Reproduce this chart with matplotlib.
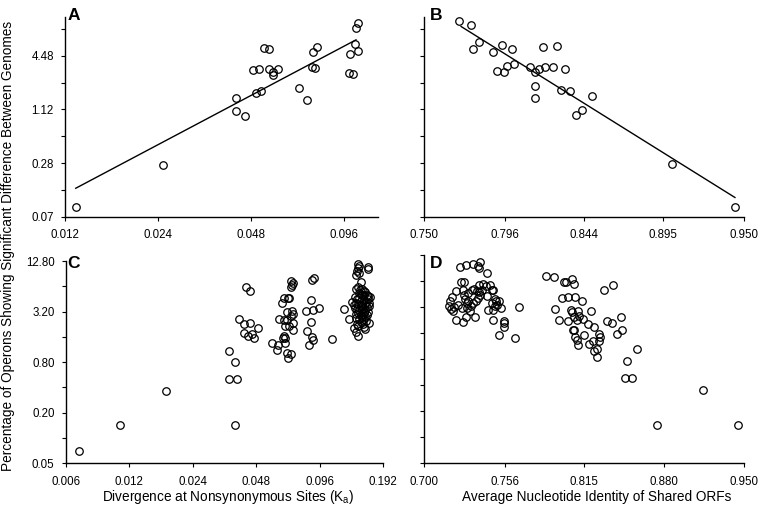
import matplotlib
matplotlib.use('Agg')
import matplotlib.pyplot as plt
from matplotlib.ticker import FixedLocator, FixedFormatter, NullLocator, NullFormatter

plt.rcParams['font.family'] = ['Liberation Sans', 'DejaVu Sans']
plt.rcParams['mathtext.fontset'] = 'custom'
plt.rcParams['mathtext.rm'] = 'Liberation Sans'
plt.rcParams['mathtext.it'] = 'Liberation Sans'

# ---------------- Panel A: Ka vs % operons ----------------
a_x = [0.0130, 0.0250, 0.0429, 0.0429, 0.0460, 0.0488, 0.0509, 0.0498, 0.0518,
       0.0529, 0.0550, 0.0549, 0.0567, 0.0567, 0.0587, 0.0689, 0.0727, 0.0755,
       0.0775, 0.0764, 0.0787, 0.0993, 0.1026, 0.1004, 0.1043, 0.1066, 0.1050, 0.1067]
a_y = [0.089, 0.267, 1.52, 1.08, 0.95, 3.09, 3.19, 1.71, 1.78,
       5.50, 5.30, 3.19, 2.98, 2.76, 3.19, 1.93, 1.43, 3.38,
       3.25, 5.00, 5.65, 2.88, 2.80, 4.68, 6.07, 5.09, 9.30, 10.4]
a_fit_x = [0.0130, 0.105]
a_fit_y = [0.146, 6.76]

# ---------------- Panel B: identity vs % operons ----------------
b_x = [0.7694, 0.7764, 0.7774, 0.7812, 0.7893, 0.7914, 0.7945, 0.7954, 0.7972,
       0.8002, 0.8013, 0.8113, 0.8141, 0.8164, 0.8141, 0.8141, 0.8192, 0.8201,
       0.8251, 0.8273, 0.8301, 0.8322, 0.8353, 0.8392, 0.8432, 0.8493, 0.9011, 0.9440]
b_y = [11.0, 9.9, 5.4, 6.35, 4.97, 3.03, 5.97, 2.93, 3.46,
       5.37, 3.60, 3.37, 2.96, 3.17, 2.03, 1.50, 5.65, 3.33,
       3.33, 5.81, 1.85, 3.19, 1.79, 0.98, 1.11, 1.59, 0.274, 0.090]
b_fit_x = [0.7707, 0.944]
b_fit_y = [9.55, 0.115]

# ---------------- Panel C: Ka vs % operons (all pairs) ----------------
c_x = [0.00696, 0.0109, 0.0179,
       0.0358, 0.0381, 0.0358, 0.0390, 0.0381, 0.0399, 0.0419, 0.0419, 0.0430,
       0.0450, 0.0437, 0.0450, 0.0460, 0.0466, 0.0490,
       0.0572, 0.0600, 0.0607, 0.0614, 0.0638, 0.0648, 0.0650, 0.0648, 0.0660,
       0.0670, 0.0660, 0.0660, 0.0669, 0.0676, 0.0676, 0.0687, 0.0672, 0.0687,
       0.0703, 0.0710, 0.0719, 0.0700, 0.0710, 0.0719, 0.0715, 0.0719, 0.0700,
       0.0640, 0.0700,
       0.0828, 0.0834, 0.0852, 0.0871, 0.0871, 0.0881, 0.0897, 0.0890, 0.0881,
       0.0890, 0.0950, 0.110,
       0.125, 0.132, 0.137, 0.140,
       0.145, 0.148, 0.146, 0.144, 0.147, 0.143, 0.162, 0.163,
       0.150, 0.146, 0.143, 0.149, 0.152, 0.155, 0.158, 0.147, 0.152, 0.156,
       0.160, 0.163, 0.166,
       0.141, 0.144, 0.148, 0.151, 0.155, 0.159, 0.162, 0.165,
       0.142, 0.146, 0.150, 0.153, 0.157, 0.160, 0.164,
       0.141, 0.144, 0.148, 0.152, 0.155, 0.158, 0.162,
       0.142, 0.146, 0.150, 0.154, 0.157, 0.161,
       0.143, 0.147, 0.152, 0.156, 0.159,
       0.144, 0.150, 0.154, 0.165,
       0.140, 0.146, 0.155, 0.158,
       0.145, 0.143]
c_y = [0.071, 0.143, 0.36,
       1.10, 0.81, 0.51, 0.51, 0.143, 2.60, 2.25, 1.80, 6.20,
       5.60, 1.64, 2.32, 1.74, 1.55, 2.03,
       1.34, 1.12, 1.27, 2.58, 4.03, 4.60, 2.53, 1.64, 1.55,
       2.53, 2.17, 1.34, 1.03, 0.89, 4.67, 4.67, 3.15, 2.17,
       7.50, 6.70, 7.10, 6.30, 3.26, 2.96, 2.35, 1.91, 1.00,
       1.55, 2.80,
       3.26, 1.87, 1.27, 4.40, 2.43, 7.70, 8.10, 3.30, 1.58,
       1.45, 3.50, 1.49,
       3.40, 2.64, 4.17, 3.86,
       11.7, 11.2, 10.5, 9.8, 9.2, 8.8, 11.0, 10.2,
       7.2, 6.3, 5.9, 5.8, 6.0, 5.7, 5.5, 5.3, 5.1, 5.0,
       5.1, 4.9, 4.8,
       4.8, 4.5, 4.6, 4.3, 4.4, 4.2, 4.5, 4.1,
       4.0, 3.9, 3.8, 3.7, 3.9, 3.6, 3.7,
       3.5, 3.4, 3.3, 3.4, 3.2, 3.3, 3.2,
       3.0, 3.1, 2.9, 3.0, 2.8, 2.9,
       2.7, 2.6, 2.75, 2.6, 2.5,
       2.3, 2.4, 2.3, 2.35,
       2.05, 2.15, 2.1, 2.0,
       1.64, 1.85]

# ---------------- Panel D: identity vs % operons (all pairs) ----------------
d_x = [0.7243, 0.7284, 0.7335, 0.7382, 0.7370, 0.7375, 0.7434,
       0.7250, 0.7271, 0.7262, 0.7215, 0.7186, 0.7174, 0.7167, 0.7178, 0.7192,
       0.7215, 0.7262, 0.7284, 0.7312, 0.7317, 0.7294, 0.7278, 0.7271, 0.7301,
       0.7324, 0.7342, 0.7359, 0.7378, 0.7401, 0.7425, 0.7453, 0.7465, 0.7378,
       0.7394, 0.7382, 0.7370, 0.7354, 0.7331, 0.7347, 0.7294, 0.7255, 0.7232,
       0.7201, 0.7301, 0.7434, 0.7472, 0.7441, 0.7472, 0.7489, 0.7494, 0.7501,
       0.7520, 0.7530, 0.7477, 0.7489, 0.7465,
       0.7553, 0.7553, 0.7553, 0.7520, 0.7636, 0.7665,
       0.7862, 0.7921, 0.7999, 0.8011, 0.8062, 0.8075, 0.7981, 0.8032, 0.8083,
       0.8141, 0.7930, 0.7963, 0.8032, 0.8052, 0.8062, 0.8075, 0.8096, 0.8109,
       0.8117, 0.8144, 0.8065, 0.8075, 0.8083, 0.8096, 0.8104, 0.8154, 0.8187,
       0.8206, 0.8195, 0.8221, 0.8232, 0.8232, 0.8253, 0.8258, 0.8271, 0.8279,
       0.8271, 0.8310, 0.8385, 0.8332, 0.8372, 0.8444, 0.8412, 0.8457, 0.8493,
       0.8479, 0.8538, 0.8579, 0.8739, 0.9137, 0.9448]
d_y = [9.2, 9.9, 10.15, 10.5, 9.45, 8.97, 8.0,
       6.17, 6.17, 5.08, 4.95, 4.17, 3.72, 3.25, 3.03, 2.85,
       2.28, 2.15, 2.45, 2.85, 3.25, 3.56, 3.96, 4.44, 4.65,
       5.08, 5.2, 4.85, 5.8, 5.96, 5.54, 5.8, 5.08, 4.73,
       5.0, 4.44, 4.07, 3.72, 3.56, 2.45, 3.11, 3.11, 3.4,
       3.2, 3.72, 4.25, 5.08, 2.98, 2.93, 3.25, 3.72, 3.4,
       3.78, 3.11, 2.28, 4.0, 3.56,
       2.18, 2.09, 1.88, 1.54, 1.40, 3.2,
       7.24, 7.05, 6.17, 6.25, 6.76, 5.9, 4.03, 4.17, 4.13,
       3.72, 3.0, 2.24, 2.2, 2.98, 2.78, 2.45, 2.24, 2.85,
       2.49, 2.36, 1.75, 1.75, 1.46, 1.34, 1.18, 1.53, 2.04,
       2.9, 1.19, 1.3, 1.88, 1.0, 0.85, 1.06, 1.58, 1.46,
       1.3, 5.08, 5.7, 2.2, 2.12, 2.45, 1.56, 1.72, 0.77,
       0.49, 0.49, 1.05, 0.139, 0.35, 0.139]

# ---------------- ticks ----------------
a_xticks = [0.012, 0.024, 0.048, 0.096]
b_xticks = [0.750, 0.796, 0.844, 0.895, 0.950]
c_xticks = [0.006, 0.012, 0.024, 0.048, 0.096, 0.192]
d_xticks = [0.700, 0.756, 0.815, 0.880, 0.950]
ab_yticks = [0.07, 0.28, 1.12, 4.48]
ab_yminor = [0.14, 0.56, 2.24, 8.96]
cd_yticks = [0.05, 0.20, 0.80, 3.20, 12.80]
cd_yminor = [0.10, 0.40, 1.60, 6.40]

W, H = 760.0, 516.0
fig = plt.figure(figsize=(7.6, 5.16), dpi=100)


def ax_at(l, r, t, b):
    return fig.add_axes([l / W, 1 - b / H, (r - l) / W, (b - t) / H])


def style(ax, xlim, ylim, xt, xfmt, yt, yfmt, ymin, show_y):
    ax.set_xscale('log')
    ax.set_yscale('log')
    ax.set_xlim(*xlim)
    ax.set_ylim(*ylim)
    for s in ['top', 'right']:
        ax.spines[s].set_visible(False)
    for s in ['left', 'bottom']:
        ax.spines[s].set_linewidth(1.0)
        ax.spines[s].set_color('black')
    ax.xaxis.set_major_locator(FixedLocator(xt))
    ax.xaxis.set_major_formatter(FixedFormatter([xfmt.format(v) for v in xt]))
    ax.xaxis.set_minor_locator(NullLocator())
    ax.yaxis.set_major_locator(FixedLocator(yt))
    if show_y:
        ax.yaxis.set_major_formatter(FixedFormatter([yfmt.format(v) for v in yt]))
    else:
        ax.yaxis.set_major_formatter(NullFormatter())
    ax.yaxis.set_minor_locator(FixedLocator(ymin))
    ax.yaxis.set_minor_formatter(NullFormatter())
    ax.tick_params(which='both', direction='out', length=3, width=0.8,
                   labelsize=8.3, colors='black')
    ax.tick_params(axis='x', pad=6)
    ax.tick_params(axis='y', pad=5)
    ax.patch.set_visible(False)


mk = dict(linestyle='none', marker='o', mfc='none', mec='black', ms=5.4,
          mew=0.9, clip_on=False, zorder=3)

axA = ax_at(65, 378, 17, 216.7)
style(axA, (0.012, 0.1237), (0.07, 12.2), a_xticks, '{:.3f}', ab_yticks, '{:.2f}', ab_yminor, True)
axA.plot(a_fit_x, a_fit_y, color='black', lw=1.0)
axA.plot(a_x, a_y, **mk)

axB = ax_at(424.3, 743.5, 17, 216.7)
style(axB, (0.75, 0.95), (0.07, 12.2), b_xticks, '{:.3f}', ab_yticks, '{:.2f}', ab_yminor, False)
axB.plot(b_fit_x, b_fit_y, color='black', lw=1.0)
axB.plot(b_x, b_y, **mk)

axC = ax_at(65.7, 383.3, 261, 463.3)
style(axC, (0.006, 0.192), (0.05, 12.8), c_xticks, '{:.3f}', cd_yticks, '{:.2f}', cd_yminor, True)
axC.plot(c_x, c_y, **mk)

axD = ax_at(424.3, 744, 255, 463.3)
style(axD, (0.70, 0.95), (0.05, 12.8), d_xticks, '{:.3f}', cd_yticks, '{:.2f}', cd_yminor, False)
axD.plot(d_x, d_y, **mk)

# panel letters
for lab, (px, py) in zip('ABCD', [(68, 15), (430, 15), (67, 264), (430, 263)]):
    fig.text(px / W, 1 - py / H, lab, fontsize=12.5, fontweight='bold',
             ha='left', va='center')

fig.text(8 / W, 1 - 246 / H,
         'Percentage of Operons Showing Significant Difference Between Genomes',
         rotation=90, ha='center', va='center', fontsize=9.8)
fig.text(228 / W, 1 - 497 / H, r'Divergence at Nonsynonymous Sites (K$_\mathrm{a}$)',
         ha='center', va='center', fontsize=9.8)
fig.text(597 / W, 1 - 497 / H, 'Average Nucleotide Identity of Shared ORFs',
         ha='center', va='center', fontsize=9.8)

fig.savefig('out.png', dpi=100)
